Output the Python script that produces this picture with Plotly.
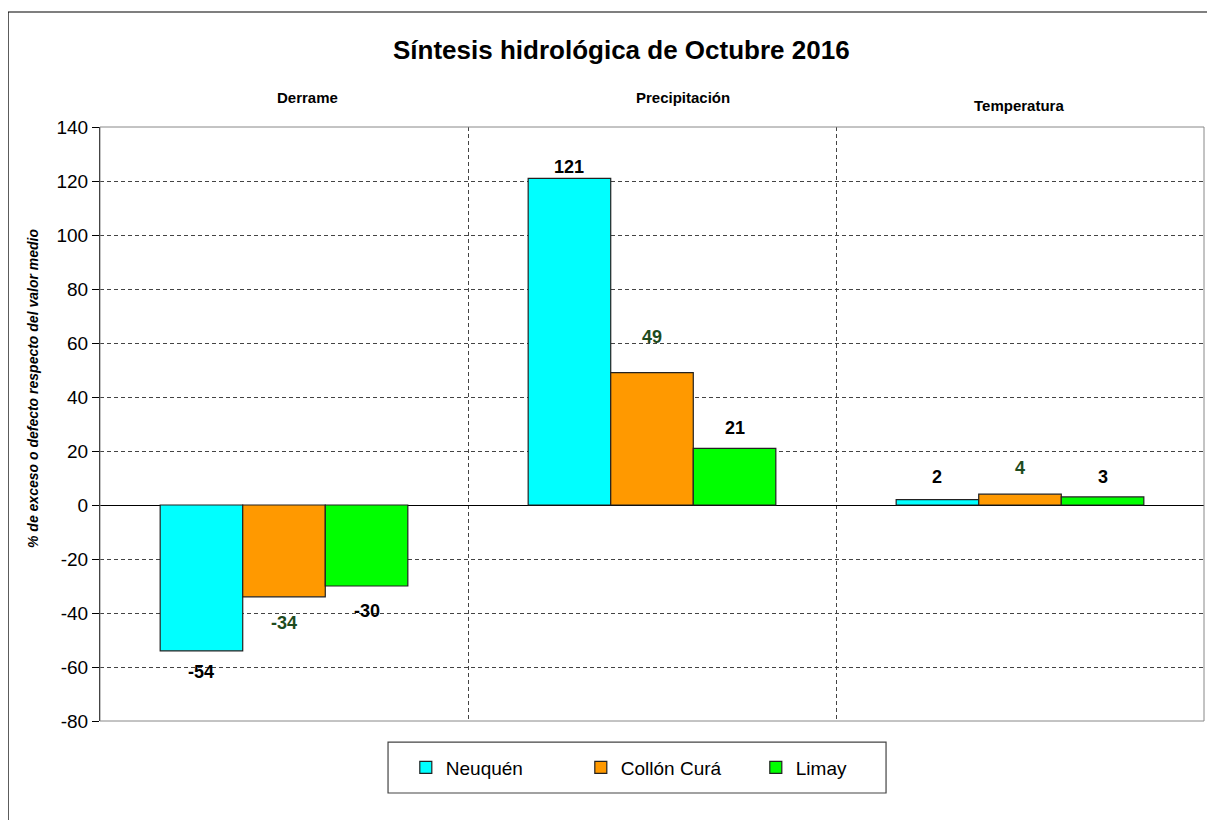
import plotly.graph_objects as go

# ---- data ----
groups = ["Derrame", "Precipitación", "Temperatura"]
series_names = ["Neuquén", "Collón Curá", "Limay"]
neuquen = [-54, 121, 2]
collon_cura = [-34, 49, 4]
limay = [-30, 21, 3]
y_ticks = [-80, -60, -40, -20, 0, 20, 40, 60, 80, 100, 120, 140]

# ---- style ----
bar_colors = ["#00FFFF", "#FF9900", "#00FF00"]
label_colors = ["#000000", "#1E4B1E", "#000000"]
# label centre offsets (px) from the bar end, per series / per group
label_offsets = [
    [-21, 11, 23],
    [-26, 36, 26],
    [-25, 20, 20],
]
FONT = "Liberation Sans, Arial, sans-serif"
bargap = 0.327

values = [neuquen, collon_cura, limay]
xpos = list(range(len(groups)))
bar_w = (1 - bargap) / len(series_names)

fig = go.Figure()
for s, name in enumerate(series_names):
    fig.add_trace(go.Bar(
        x=xpos, y=values[s], name=name,
        marker=dict(color=bar_colors[s], line=dict(color="#222222", width=1.2)),
        offsetgroup=str(s),
    ))

annotations = []
for s in range(len(series_names)):
    for g in range(len(groups)):
        v = values[s][g]
        xc = g + (s - (len(series_names) - 1) / 2) * bar_w
        annotations.append(dict(
            x=xc, y=v, xref="x", yref="y", text=f"<b>{v}</b>", showarrow=False,
            yanchor="middle", yshift=label_offsets[s][g],
            font=dict(family=FONT, size=18, color=label_colors[s]),
        ))

# group sub-titles above plot
sub_shift = [23, 31, -1]
sub_y = [1.0505, 1.0505, 1.037]
for g, name in enumerate(groups):
    annotations.append(dict(
        x=g, y=sub_y[g], xref="x", yref="paper", text=f"<b>{name}</b>",
        showarrow=False, xshift=sub_shift[g], yanchor="middle",
        font=dict(family=FONT, size=15, color="#000000"),
    ))

# main title
annotations.append(dict(
    x=0.472, y=1.1296, xref="paper", yref="paper",
    text="<b>Síntesis hidrológica de Octubre 2016</b>", showarrow=False,
    yanchor="middle", xanchor="center",
    font=dict(family=FONT, size=26, color="#000000"),
))

# y-axis title
annotations.append(dict(
    x=-0.0607, y=0.5606, xref="paper", yref="paper", textangle=-90,
    text="<b><i>% de exceso o defecto respecto del valor medio</i></b>",
    showarrow=False, xanchor="center", yanchor="middle",
    font=dict(family=FONT, size=14, color="#000000"),
))

fig.update_layout(
    width=1207, height=812,
    margin=dict(l=92, r=11, t=119, b=99),
    paper_bgcolor="white", plot_bgcolor="white",
    barmode="group", bargap=bargap, bargroupgap=0,
    font=dict(family=FONT, color="#000000"),
    showlegend=True,
    legend=dict(
        orientation="h", x=0.277, xanchor="left", y=-0.0783, yanchor="middle",
        borderwidth=0, bgcolor="rgba(0,0,0,0)",
        font=dict(family=FONT, size=19, color="#000000"),
        entrywidth=130, entrywidthmode="pixels",
        traceorder="normal",
    ),
    annotations=annotations,
    shapes=[
        dict(type="rect", xref="paper", yref="paper", x0=0, x1=1, y0=0, y1=1,
             line=dict(color="#888888", width=1), layer="above"),
        dict(type="rect", xref="paper", yref="paper", x0=-0.0833, x1=1.0091,
             y0=-0.3, y1=1.1936, line=dict(color="#000000", width=1.2)),
        dict(type="rect", xref="paper", yref="paper", x0=0.2609, x1=0.712,
             y0=-0.1212, y1=-0.0354, line=dict(color="#444444", width=1.2)),
    ],
)

fig.update_yaxes(
    range=[-80, 140], tickvals=y_ticks, ticktext=[str(t) for t in y_ticks],
    showgrid=True, gridcolor="#444444", griddash="4px,3px", gridwidth=1,
    zeroline=True, zerolinecolor="#000000", zerolinewidth=1,
    showline=True, linecolor="#000000", linewidth=1,
    ticks="outside", ticklen=7, tickcolor="#000000",
    tickfont=dict(family=FONT, size=19, color="#000000"),
)
fig.update_xaxes(
    range=[-0.5, 2.5], tickvals=[0.5, 1.5], showticklabels=False,
    showgrid=True, gridcolor="#444444", griddash="4px,3px", gridwidth=1,
    zeroline=False, showline=False, ticks="",
)

fig.write_html("out.html")
